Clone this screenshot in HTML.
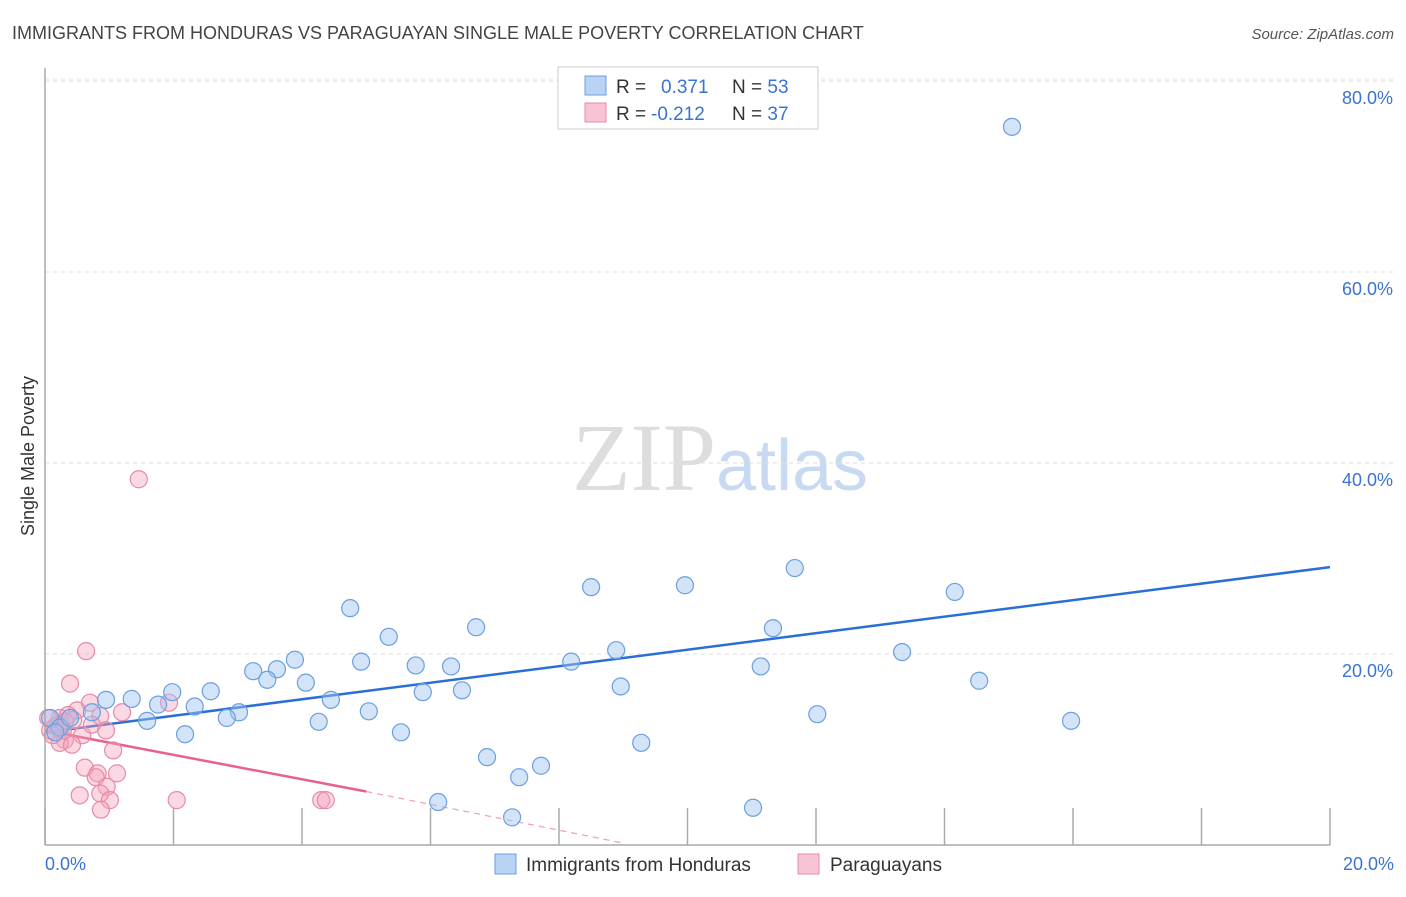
<!DOCTYPE html>
<html><head><meta charset="utf-8"><style>
body{margin:0;background:#fff;font-family:"Liberation Sans",sans-serif;}
svg text{font-family:"Liberation Sans",sans-serif;}
</style></head><body>
<svg id="chart" width="1406" height="892" xmlns="http://www.w3.org/2000/svg">
<text x="12" y="39" font-size="18" fill="#444">IMMIGRANTS FROM HONDURAS VS PARAGUAYAN SINGLE MALE POVERTY CORRELATION CHART</text>
<text x="1394" y="39" font-size="15" fill="#555" font-style="italic" text-anchor="end">Source: ZipAtlas.com</text>
<text x="720" y="490" font-size="96" text-anchor="middle"><tspan fill="#ddd" font-family="Liberation Serif">ZIP</tspan><tspan fill="#c8daf2" font-size="72">atlas</tspan></text>
<text transform="translate(34,456) rotate(-90)" font-size="18" fill="#333" text-anchor="middle">Single Male Poverty</text>
<g id="grid"></g><g id="ticks"></g><g id="trend"></g><g id="pts"></g>
<line x1="45" y1="68" x2="45" y2="845" stroke="#aaa" stroke-width="1.5"/>
<line x1="45" y1="845" x2="1330" y2="845" stroke="#aaa" stroke-width="1.5"/>
<text x="45" y="870" font-size="18" fill="#3b73d0">0.0%</text>
<text x="1394" y="870" font-size="18" fill="#3b73d0" text-anchor="end">20.0%</text>
<g>
<rect x="558" y="67" width="260" height="62" fill="#fff" stroke="#ccc"/>
<rect x="585" y="76" width="21" height="19" fill="#b9d3f5" stroke="#6a9fe0"/>
<rect x="585" y="103" width="21" height="19" fill="#f8c3d3" stroke="#e889a8"/>
<text x="616" y="93" font-size="19" fill="#333">R = <tspan fill="#3b73d0" x="661">0.371</tspan><tspan x="732" fill="#333">N = </tspan><tspan fill="#3b73d0">53</tspan></text>
<text x="616" y="120" font-size="19" fill="#333">R = <tspan fill="#3b73d0" x="651">-0.212</tspan><tspan x="732" fill="#333">N = </tspan><tspan fill="#3b73d0">37</tspan></text>
</g>
<g>
<rect x="495" y="854" width="21" height="20" fill="#b9d3f5" stroke="#6a9fe0"/>
<text x="526" y="871" font-size="19" fill="#333">Immigrants from Honduras</text>
<rect x="798" y="854" width="21" height="20" fill="#f8c3d3" stroke="#e889a8"/>
<text x="830" y="871" font-size="19" fill="#333">Paraguayans</text>
</g>
</svg>
<script>
const yTicks=[20,40,60,80];
const xTickVals=[0,2,4,6,8,10,12,14,16,18,20];
const blueX=[15.05,11.67,9.96,8.50,14.16,4.75,6.71,11.33,5.35,8.89,13.34,3.89,4.92,8.19,5.77,6.32,11.14,3.24,3.61,3.46,4.06,14.54,8.96,6.49,2.58,1.98,5.88,1.35,0.95,4.45,2.33,1.76,3.02,5.04,0.73,2.83,12.02,1.59,4.26,15.97,2.18,5.54,9.28,6.88,7.72,7.38,6.12,11.02,7.27,0.08,0.23,0.39,0.16];
const blueY=[75.2,29.0,27.2,27.0,26.5,24.8,22.8,22.7,21.8,20.4,20.2,19.4,19.2,19.2,18.8,18.7,18.7,18.2,18.4,17.3,17.0,17.2,16.6,16.2,16.1,16.0,16.0,15.3,15.2,15.2,14.5,14.7,13.9,14.0,13.9,13.3,13.7,13.0,12.9,13.0,11.6,11.8,10.7,9.2,8.3,7.1,4.5,3.9,2.9,13.3,12.3,13.3,11.8];
const pinkX=[1.46,0.64,0.39,0.70,1.93,0.50,1.20,0.86,0.23,0.44,0.95,0.58,0.16,0.31,0.23,0.42,1.06,0.08,0.62,0.82,0.79,1.12,0.96,0.54,0.86,1.01,2.05,4.30,4.37,0.87,0.31,0.20,0.05,0.28,0.73,0.12,0.36];
const pinkY=[38.3,20.3,16.9,14.9,14.9,14.1,13.9,13.5,13.3,13.1,12.0,11.5,12.4,11.0,10.7,10.5,9.9,12.0,8.1,7.5,7.1,7.5,6.1,5.2,5.4,4.7,4.7,4.7,4.7,3.7,12.9,12.6,13.3,12.0,12.6,11.5,13.6];
const blueTrend=[0,11.8,20,29.1];
const pinkTrend=[0,12.0,5.0,5.6,9.0,0.2];
const X=v=>45+v/20*1285, Y=v=>845-v/20*191;
const NS='http://www.w3.org/2000/svg';
function mk(t,a,p){const e=document.createElementNS(NS,t);for(const k in a)e.setAttribute(k,a[k]);p.appendChild(e);return e;}
const grid=document.getElementById('grid');
mk('line',{x1:45,y1:79,x2:1394,y2:79,stroke:'#e4e4e4','stroke-dasharray':'4,4'},grid);
yTicks.forEach(t=>{
 const l=mk('line',{x1:45,y1:Y(t),x2:1394,y2:Y(t),stroke:'#ddd','stroke-dasharray':'4,4'},grid);
 
 
 const tx=mk('text',{x:1393,y:Y(t)+23,'font-size':18,fill:'#3b73d0','text-anchor':'end'},grid);
 tx.textContent=t.toFixed(1)+'%';
 
 
});
const ticks=document.getElementById('ticks');
xTickVals.forEach(v=>{
 const l=mk('line',{x1:X(v),y1:808,x2:X(v),y2:845,stroke:'#aaa','stroke-width':1.5},ticks);
 
 
});
const tr=document.getElementById('trend');
let l=mk('line',{x1:X(blueTrend[0]),y1:Y(blueTrend[1]),x2:X(blueTrend[2]),y2:Y(blueTrend[3]),stroke:'#2a6fd6','stroke-width':2.5},tr);


l=mk('line',{x1:X(pinkTrend[0]),y1:Y(pinkTrend[1]),x2:X(pinkTrend[2]),y2:Y(pinkTrend[3]),stroke:'#e8608c','stroke-width':2.5},tr);


l=mk('line',{x1:X(pinkTrend[2]),y1:Y(pinkTrend[3]),x2:X(pinkTrend[4]),y2:Y(pinkTrend[5]),stroke:'#e8a0b8','stroke-width':1.2,'stroke-dasharray':'6,5'},tr);


const pts=document.getElementById('pts');
pinkX.forEach((x,i)=>{
 const c=mk('circle',{cx:X(x),cy:Y(pinkY[i]),r:8.5,fill:'rgba(244,160,186,0.4)',stroke:'#e889a8','stroke-width':1.2},pts);
 
 
});
blueX.forEach((x,i)=>{
 const c=mk('circle',{cx:X(x),cy:Y(blueY[i]),r:8.5,fill:'rgba(160,195,240,0.45)',stroke:'#6a9fe0','stroke-width':1.2},pts);
 
 
});
</script>
</body></html>
